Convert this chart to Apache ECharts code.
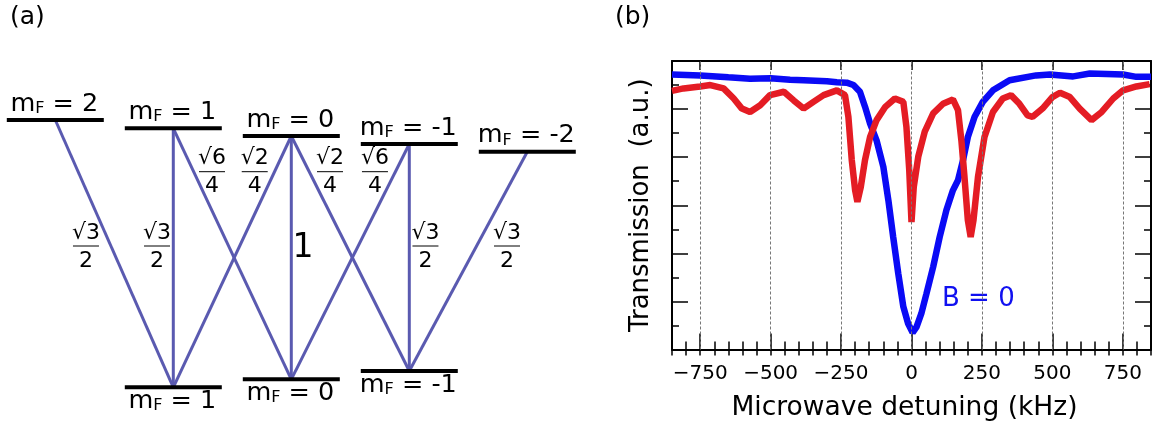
<!DOCTYPE html>
<html>
<head>
<meta charset="utf-8">
<script src="https://cdn.jsdelivr.net/npm/echarts@6/dist/echarts.min.js"></script>
<style>
html, body { margin: 0; padding: 0; background: #fff; }
#main { width: 1162px; height: 430px; }
</style>
</head>
<body>
<div id="main"></div>
<script>
var FONT = 'DejaVu Sans';

// (a) level scheme: upper F=2 and lower F=1 sublevels (energy in arbitrary units)
var upperM = [2, 1, 0, -1, -2];
var upperE = [28.0, 27.17, 26.4, 25.6, 24.83];
var lowerM = [1, 0, -1];
var lowerE = [1.27, 2.07, 2.9];
// allowed transitions [upper mF, lower mF] and their relative strengths
var transitions = [[2, 1], [1, 1], [1, 0], [0, 1], [0, 0], [0, -1], [-1, 0], [-1, -1], [-2, -1]];
var coefNum = ['√3', '√3', '√6', '√2', '1', '√2', '√6', '√3', '√3'];
var coefDen = ['2', '2', '4', '4', '', '4', '4', '2', '2'];

// (b) spectra
var detBlue = [-850, -750, -650, -573, -500, -431, -383, -300, -265, -230, -206, -183, -165, -147, -124, -100, -82, -65, -47, -29, -12, 4, 18, 35, 53, 77, 100, 124, 147, 165, 183, 200, 224, 253, 289, 348, 442, 491, 574, 633, 751, 798, 850];
var transBlue = [5.72, 5.70, 5.66, 5.63, 5.64, 5.61, 5.60, 5.58, 5.56, 5.55, 5.50, 5.36, 5.05, 4.70, 4.35, 3.80, 3.10, 2.34, 1.58, 0.89, 0.54, 0.35, 0.47, 0.75, 1.16, 1.72, 2.34, 2.90, 3.31, 3.52, 3.94, 4.42, 4.84, 5.15, 5.39, 5.60, 5.70, 5.72, 5.68, 5.74, 5.72, 5.67, 5.67];
var detRed = [-850, -809, -750, -714, -667, -631, -602, -573, -537, -502, -453, -418, -383, -348, -312, -265, -236, -224, -212, -200, -192, -180, -165, -147, -124, -94, -59, -29, -18, -8, 0, 8, 24, 47, 77, 112, 147, 165, 177, 188, 200, 210, 220, 236, 259, 289, 324, 353, 383, 412, 430, 465, 500, 527, 562, 597, 639, 675, 716, 751, 798, 845];
var transRed = [5.38, 5.43, 5.47, 5.50, 5.43, 5.22, 5.01, 4.94, 5.08, 5.29, 5.36, 5.18, 5.01, 5.15, 5.29, 5.39, 5.29, 4.84, 3.94, 3.31, 3.07, 3.38, 3.94, 4.42, 4.77, 5.04, 5.22, 5.15, 4.63, 3.73, 2.65, 3.38, 4.01, 4.53, 4.91, 5.11, 5.20, 4.98, 4.35, 3.59, 2.69, 2.34, 2.69, 3.59, 4.42, 4.94, 5.22, 5.29, 5.11, 4.87, 4.84, 5.01, 5.25, 5.34, 5.25, 5.01, 4.77, 4.94, 5.22, 5.39, 5.47, 5.52];
var xTicks = [-750, -500, -250, 0, 250, 500, 750];

// where the coefficient labels sit (layout only, in panel (a) axis units)
var coefAnchor = [[1.74, 15.4], [1.138, 15.4], [0.672, 22.83], [0.31, 22.83], [-0.099, 15.2],
                  [-0.328, 22.83], [-0.709, 22.83], [-1.137, 15.4], [-1.828, 15.4]];

var levelData = [];
upperM.forEach(function (m, i) { levelData.push([m, upperE[i], 1]); });
lowerM.forEach(function (m, i) { levelData.push([m, lowerE[i], 0]); });

var transData = transitions.map(function (t) {
    return [t[0], upperE[upperM.indexOf(t[0])], t[1], lowerE[lowerM.indexOf(t[1])]];
});

var coefData = coefAnchor.map(function (p, i) { return [p[0], p[1], i]; });

function zip(xs, ys) {
    return xs.map(function (x, i) { return [x, ys[i]]; });
}

var chart = echarts.init(document.getElementById('main'));

var tickStyle = { color: '#000', width: 1.5 };

var option = {
    animation: false,
    backgroundColor: '#fff',
    textStyle: { fontFamily: FONT },
    title: [
        { text: '(a)', left: 5, top: 0, textStyle: { fontSize: 25, fontWeight: 'normal', fontFamily: FONT, color: '#000' } },
        { text: '(b)', left: 610, top: 0, textStyle: { fontSize: 25, fontWeight: 'normal', fontFamily: FONT, color: '#000' } }
    ],
    grid: [
        { left: 8.1, top: 100, width: 566.4, height: 300 },
        { left: 672, top: 61, width: 479, height: 288.5 }
    ],
    xAxis: [
        { gridIndex: 0, type: 'value', min: -2.4, max: 2.4, inverse: true, show: false },
        {
            gridIndex: 1, type: 'value', min: -850, max: 850, position: 'bottom',
            axisLine: { show: true, onZero: false, lineStyle: { color: '#000', width: 2 } },
            axisTick: { show: true, inside: true, length: 16, customValues: xTicks, lineStyle: tickStyle },
            axisLabel: {
                show: true, customValues: xTicks, margin: 14, fontSize: 20, color: '#000', fontFamily: FONT,
                formatter: function (v) { return v < 0 ? '\u2212' + Math.abs(v) : String(v); }
            },
            splitLine: { show: false },
            name: 'Microwave detuning (kHz)', nameLocation: 'middle', nameGap: 45,
            nameTextStyle: { fontSize: 26.5, color: '#000', fontFamily: FONT, padding: [0, 14, 0, 0] }
        },
        {
            gridIndex: 1, type: 'value', min: -850, max: 850, interval: 50, position: 'bottom',
            axisLine: { show: false }, axisLabel: { show: false }, splitLine: { show: false },
            axisTick: { show: true, inside: true, length: 8, lineStyle: tickStyle }
        },
        {
            gridIndex: 1, type: 'value', min: -850, max: 850, position: 'top',
            axisLine: { show: true, onZero: false, lineStyle: { color: '#000', width: 2 } },
            axisTick: { show: true, inside: true, length: 9, customValues: xTicks, lineStyle: tickStyle },
            axisLabel: { show: false }, splitLine: { show: false }
        },
        {
            gridIndex: 1, type: 'value', min: -850, max: 850, interval: 50, position: 'top',
            axisLine: { show: false }, axisLabel: { show: false }, splitLine: { show: false },
            axisTick: { show: true, inside: true, length: 6, lineStyle: tickStyle }
        }
    ],
    yAxis: [
        { gridIndex: 0, type: 'value', min: 0, max: 30, show: false },
        {
            gridIndex: 1, type: 'value', min: 0, max: 6, interval: 1, position: 'left',
            axisLine: { show: true, onZero: false, lineStyle: { color: '#000', width: 2 } },
            axisTick: { show: true, inside: true, length: 16, lineStyle: tickStyle },
            minorTick: { show: true, splitNumber: 2, length: 7, lineStyle: tickStyle },
            axisLabel: { show: false }, splitLine: { show: false },
            name: 'Transmission  (a.u.)', nameLocation: 'middle', nameGap: 18,
            nameTextStyle: { fontSize: 26, color: '#000', fontFamily: FONT }
        },
        {
            gridIndex: 1, type: 'value', min: 0, max: 6, interval: 1, position: 'right',
            axisLine: { show: true, onZero: false, lineStyle: { color: '#000', width: 2 } },
            axisTick: { show: true, inside: true, length: 16, lineStyle: tickStyle },
            minorTick: { show: true, splitNumber: 2, length: 7, lineStyle: tickStyle },
            axisLabel: { show: false }, splitLine: { show: false }
        }
    ],
    graphic: [
        { type: 'text', left: 942, top: 286, style: { text: 'B = 0', fontSize: 26, fontFamily: FONT, fill: '#1010f0' } }
    ],
    series: [
        // transition lines
        {
            type: 'custom', xAxisIndex: 0, yAxisIndex: 0, clip: false, silent: true,
            data: transData,
            renderItem: function (params, api) {
                var a = api.coord([api.value(0), api.value(1)]);
                var b = api.coord([api.value(2), api.value(3)]);
                return {
                    type: 'line',
                    shape: { x1: a[0], y1: a[1], x2: b[0], y2: b[1] },
                    style: { stroke: '#5a5ab0', lineWidth: 3 }
                };
            }
        },
        // sublevels with labels
        {
            type: 'custom', xAxisIndex: 0, yAxisIndex: 0, clip: false, silent: true,
            data: levelData,
            renderItem: function (params, api) {
                var m = api.value(0);
                var up = api.value(2) === 1;
                var p = api.coord([m, api.value(1)]);
                return {
                    type: 'group',
                    children: [
                        {
                            type: 'line',
                            shape: { x1: p[0] - 48.5, y1: p[1], x2: p[0] + 48.5, y2: p[1] },
                            style: { stroke: '#000', lineWidth: 4 }
                        },
                        {
                            type: 'text', x: p[0] - 1, y: up ? p[1] - 3 : p[1] + 1,
                            style: {
                                text: '{a|m}{b|F}{a| = ' + m + '}',
                                align: 'center', verticalAlign: up ? 'bottom' : 'top',
                                rich: {
                                    a: { fontSize: 25.5, fontFamily: FONT, fill: '#000' },
                                    b: { fontSize: 16, fontFamily: FONT, fill: '#000', verticalAlign: 'bottom' }
                                }
                            }
                        }
                    ]
                };
            }
        },
        // coefficient labels
        {
            type: 'custom', xAxisIndex: 0, yAxisIndex: 0, clip: false, silent: true,
            data: coefData,
            renderItem: function (params, api) {
                var i = api.value(2);
                var p = api.coord([api.value(0), api.value(1)]);
                if (!coefDen[i]) {
                    return {
                        type: 'text', x: p[0], y: p[1],
                        style: { text: coefNum[i], fontSize: 33, fontFamily: FONT, fill: '#000', align: 'center', verticalAlign: 'middle' }
                    };
                }
                return {
                    type: 'group',
                    children: [
                        { type: 'text', x: p[0], y: p[1] - 2, style: { text: coefNum[i], fontSize: 22, fontFamily: FONT, fill: '#000', align: 'center', verticalAlign: 'bottom' } },
                        { type: 'line', shape: { x1: p[0] - 13, y1: p[1], x2: p[0] + 13, y2: p[1] }, style: { stroke: '#000', lineWidth: 1 } },
                        { type: 'text', x: p[0], y: p[1] + 4, style: { text: coefDen[i], fontSize: 22, fontFamily: FONT, fill: '#000', align: 'center', verticalAlign: 'top' } }
                    ]
                };
            }
        },
        // dashed vertical guides in (b)
        {
            type: 'line', xAxisIndex: 1, yAxisIndex: 1, data: [], z: 1, silent: true,
            markLine: {
                silent: true, symbol: 'none', label: { show: false },
                lineStyle: { color: '#777', width: 1, type: [3, 2] },
                data: xTicks.map(function (v) { return { xAxis: v }; })
            }
        },
        {
            name: 'B = 0', type: 'line', xAxisIndex: 1, yAxisIndex: 1, z: 3,
            showSymbol: false, symbol: 'none',
            lineStyle: { color: '#0a0af5', width: 6.5 },
            data: zip(detBlue, transBlue)
        },
        {
            name: 'B', type: 'line', xAxisIndex: 1, yAxisIndex: 1, z: 4,
            showSymbol: false, symbol: 'none',
            lineStyle: { color: '#e41c24', width: 6.5 },
            data: zip(detRed, transRed)
        }
    ]
};

chart.setOption(option);
</script>
</body>
</html>
